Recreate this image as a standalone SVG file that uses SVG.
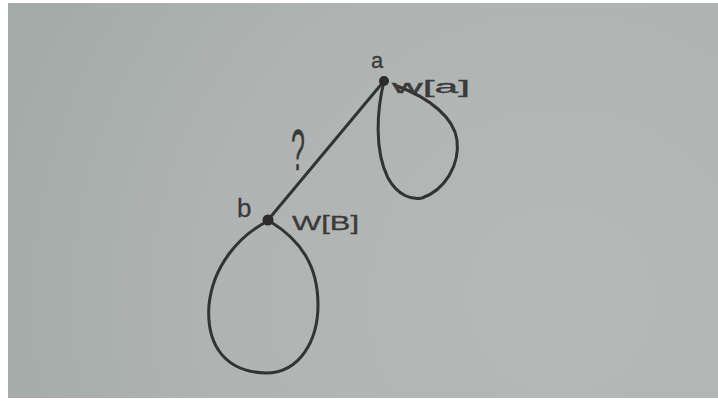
<svg xmlns="http://www.w3.org/2000/svg" width="718" height="410" viewBox="0 0 718 410">
  <defs>
    <radialGradient id="paper" cx="560" cy="300" r="600" gradientUnits="userSpaceOnUse">
      <stop offset="0" stop-color="#b5b9b7"/>
      <stop offset="0.6" stop-color="#afb4b2"/>
      <stop offset="1" stop-color="#a3aaa8"/>
    </radialGradient>
    <style>
      .pen { fill: none; stroke: #333333; stroke-width: 3; stroke-linecap: round; stroke-linejoin: round; }
      .dot { fill: #2b2b2b; }
      .lbl { font-family: "Liberation Sans", "DejaVu Sans", sans-serif; fill: #3a3a3a; stroke: #3a3a3a; stroke-width: 0.3; }
    </style>
  </defs>
  <rect x="0" y="0" width="718" height="410" fill="#ffffff"/>
  <rect x="8" y="3" width="710" height="395" fill="url(#paper)"/>

  <g id="connectors">
    <path class="pen" d="M384,81 L268,220"/>
    <text class="lbl" x="0" y="0" font-size="50" transform="translate(291,170) scale(0.5,1.15)">?</text>
  </g>

  <g id="node-a">
    <path class="pen" d="M384,81 C377,110 374,150 388,178 C398,196 412,200 422,198 C445,190 460,165 457,140 C454,118 430,98 397,86"/>
    <circle class="dot" cx="384" cy="81" r="5"/>
    <text class="lbl" x="371" y="68" font-size="22">a</text>
    <text class="lbl" x="392" y="93" font-size="18" textLength="78" lengthAdjust="spacingAndGlyphs">w[a]</text>
  </g>

  <g id="node-b">
    <path class="pen" d="M268,221 C240,235 213,265 209,305 C206,345 225,372 266,373 C300,373 318,340 318,305 C318,265 300,240 271,222"/>
    <circle class="dot" cx="268" cy="220" r="5.5"/>
    <text class="lbl" x="237" y="217" font-size="26">b</text>
    <text class="lbl" x="292" y="230" font-size="20" textLength="67" lengthAdjust="spacingAndGlyphs">W[B]</text>
  </g>
</svg>
